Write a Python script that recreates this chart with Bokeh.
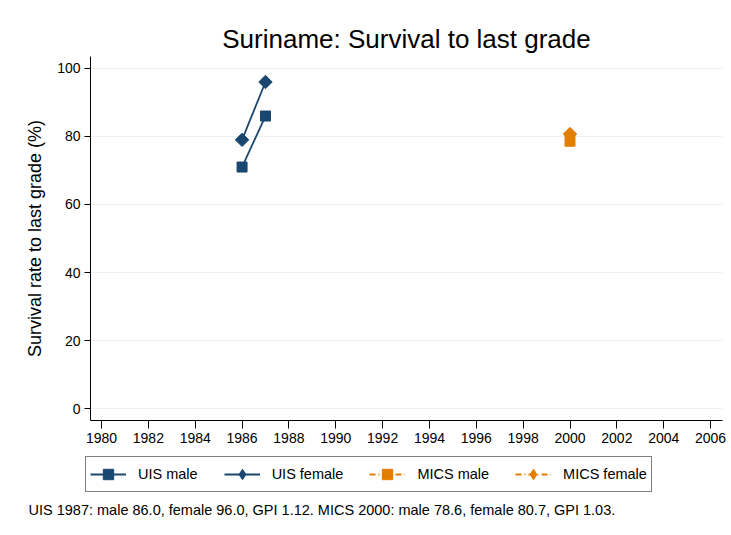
from bokeh.plotting import figure
from bokeh.models import Legend, LegendItem, Label, FixedTicker, Range1d
from bokeh.layouts import column
from bokeh.embed import file_html
from bokeh.resources import INLINE

# Data
uis_years = [1986, 1987]
uis_male = [71.0, 86.0]
uis_female = [79.0, 96.0]
mics_years = [2000]
mics_male = [78.6]
mics_female = [80.7]
x_ticks = list(range(1980, 2007, 2))
y_ticks = [0, 20, 40, 60, 80, 100]
title_text = "Suriname: Survival to last grade"
y_label = "Survival rate to last grade (%)"
series_labels = ["UIS male", "UIS female", "MICS male", "MICS female"]
note_text = "UIS 1987: male 86.0, female 96.0, GPI 1.12. MICS 2000: male 78.6, female 80.7, GPI 1.03."

NAVY = "#1a476f"
ORANGE = "#e37e00"
FONT = "Liberation Sans"
DASHDOT = "6 3 1 3"

p = figure(width=728, height=452, output_backend="svg", toolbar_location=None,
           x_range=Range1d(1979.53, 2006.51), y_range=Range1d(-3.5, 103.5),
           min_border_left=90, min_border_right=6, min_border_top=56, min_border_bottom=32)
p.frame_align = False
p.outline_line_color = None
p.background_fill_color = "white"
p.border_fill_color = "white"

p.title.text = title_text
p.title.text_font = FONT
p.title.text_font_size = "26px"
p.title.text_font_style = "normal"
p.title.align = "center"
p.title.text_color = "black"
p.title.standoff = 5

# axes
p.xaxis.ticker = FixedTicker(ticks=x_ticks)
p.yaxis.ticker = FixedTicker(ticks=y_ticks)
for ax in (p.xaxis, p.yaxis):
    ax.axis_line_color = "black"
    ax.major_tick_line_color = "black"
    ax.minor_tick_line_color = None
    ax.major_tick_in = 0
    ax.major_label_text_font = FONT
    ax.major_label_text_font_size = "14px"
    ax.major_label_text_color = "black"
p.xaxis.major_tick_out = 8
p.xaxis.major_label_standoff = 4
p.yaxis.major_tick_out = 6
p.yaxis.major_label_standoff = 4
p.yaxis.axis_label = y_label
p.yaxis.axis_label_text_font = FONT
p.yaxis.axis_label_text_font_size = "18px"
p.yaxis.axis_label_text_font_style = "normal"
p.yaxis.axis_label_standoff = 9
p.yaxis.axis_label_text_color = "black"

p.xgrid.grid_line_color = None
p.ygrid.grid_line_color = "#eaf2f3"
p.ygrid.grid_line_width = 1

series = [
    (uis_years, uis_male, NAVY, "solid", 0.0, 10, "square", 10),
    (uis_years, uis_female, NAVY, "solid", 0.7854, 9.5, "diamond", 14),
    (mics_years, mics_male, ORANGE, DASHDOT, 0.0, 10, "square", 10),
    (mics_years, mics_female, ORANGE, DASHDOT, 0.7854, 9.5, "diamond", 14),
]

# glyphs on main chart (diamonds are squares turned 45 degrees, as in the reference)
for xs, ys, col, dash, ang, sz, _, _ in series:
    p.line(xs, ys, line_color=col, line_width=1.8, line_dash=dash)
    p.scatter(xs, ys, marker="square", angle=ang, size=sz, fill_color=col, line_color=col)

# legend + note strip (its ranges keep the series out of view; it only hosts the key)
p2 = figure(width=728, height=78, output_backend="svg", toolbar_location=None,
            x_range=Range1d(0, 1), y_range=Range1d(0, 1),
            x_axis_location=None, y_axis_location=None,
            min_border=0)
p2.frame_align = False
p2.outline_line_color = None
p2.grid.grid_line_color = None
p2.border_fill_color = "white"
p2.background_fill_color = "white"

items = []
for lab, (xs, ys, col, dash, ang, sz, key_marker, key_size) in zip(series_labels, series):
    lr = p2.line(xs, ys, line_color=col, line_width=1.8, line_dash=dash)
    mr = p2.scatter(xs, ys, marker=key_marker, size=key_size, fill_color=col, line_color=col)
    items.append(LegendItem(label=lab, renderers=[lr, mr]))

legend = Legend(items=items, orientation="horizontal", location=(85, 38))
legend.label_text_font = FONT
legend.label_text_font_size = "14.5px"
legend.label_text_color = "black"
legend.glyph_width = 36
legend.glyph_height = 26
legend.label_standoff = 12
legend.spacing = 26
legend.padding = 4
legend.margin = 0
legend.border_line_color = "black"
legend.border_line_width = 1
legend.background_fill_color = "white"
p2.add_layout(legend, "center")

note = Label(x=28, y=21, x_units="screen", y_units="screen", text=note_text,
             text_font=FONT, text_font_size="14.5px", text_color="black",
             text_baseline="middle", text_align="left")
p2.add_layout(note)

open("out.html", "w").write(file_html(column(p, p2, spacing=0), INLINE))
